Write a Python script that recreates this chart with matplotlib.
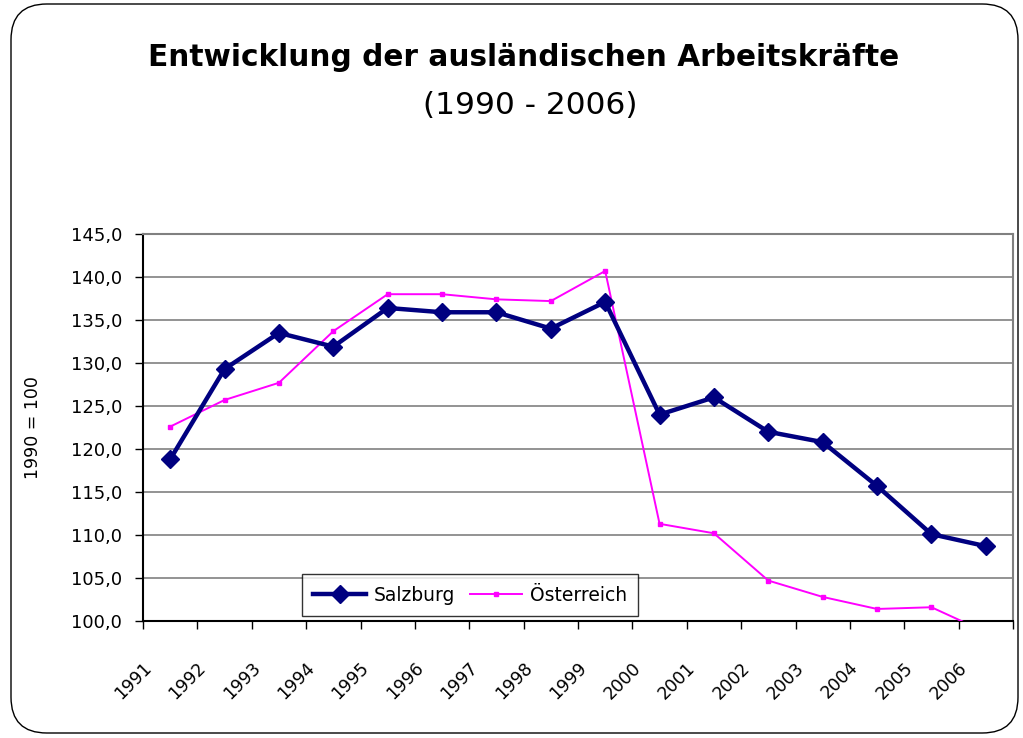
import matplotlib.pyplot as plt
from matplotlib.patches import FancyBboxPatch
from matplotlib.transforms import ScaledTranslation

years = ["1991", "1992", "1993", "1994", "1995", "1996", "1997", "1998",
         "1999", "2000", "2001", "2002", "2003", "2004", "2005", "2006"]
salzburg = [118.8, 129.3, 133.5, 131.9, 136.4, 135.9, 135.9, 134.0,
            137.1, 124.0, 126.0, 122.0, 120.8, 115.7, 110.1, 108.7]
oesterreich = [122.6, 125.7, 127.7, 133.7, 138.0, 138.0, 137.4, 137.2,
               140.7, 111.3, 110.2, 104.7, 102.8, 101.4, 101.6, 98.7]

plt.rcParams['font.family'] = ['DejaVu Sans']

fig = plt.figure(figsize=(10.23, 7.38), dpi=100)
ax = fig.add_axes([143 / 1023, 1 - 621 / 738, 870 / 1023, 387 / 738])

# rounded frame around the whole chart
frame = FancyBboxPatch((11 / 1023, 5 / 738), 1007 / 1023, 729 / 738,
                       boxstyle="round,pad=0,rounding_size=0.035",
                       transform=fig.transFigure, facecolor="none",
                       edgecolor="black", linewidth=1.0, mutation_aspect=1023 / 738)
fig.patches.append(frame)

fig.text(524 / 1023, 1 - 57 / 738, "Entwicklung der ausländischen Arbeitskräfte",
         ha="center", va="center", fontsize=21.3, fontweight="bold")
fig.text(530 / 1023, 1 - 106 / 738, "(1990 - 2006)", ha="center", va="center",
         fontsize=22.5)

x = list(range(len(years)))
ax.plot(x, oesterreich, color="#FF00FF", linewidth=1.4, marker="s",
        markersize=3, label="Österreich", zorder=3)
ax.plot(x, salzburg, color="#000080", linewidth=3.2, marker="D",
        markersize=9, label="Salzburg", zorder=4)

ax.set_xlim(-0.5, len(years) - 0.5)
ax.set_ylim(100, 145)
ax.set_yticks(range(100, 146, 5))
ax.set_yticklabels([f"{v},0" for v in range(100, 146, 5)], fontsize=13)
ax.yaxis.grid(True, color="#808080", linewidth=1.2)
ax.set_axisbelow(True)

ax.set_xticks(x)
ax.set_xticklabels(years, rotation=45, ha="center", va="top", fontsize=12.5)
ax.tick_params(axis="x", which="major", length=0, pad=27)
shift = ScaledTranslation(-37 / 100, 0, fig.dpi_scale_trans)
for lab in ax.get_xticklabels():
    lab.set_transform(lab.get_transform() + shift)
ax.set_xticks([i - 0.5 for i in range(len(years) + 1)], minor=True)
ax.tick_params(axis="x", which="minor", length=6, width=1, color="black")
ax.tick_params(axis="y", length=6, width=1, pad=9)

for s in ["top", "right"]:
    ax.spines[s].set_color("#808080")
    ax.spines[s].set_linewidth(1.5)
for s in ["left", "bottom"]:
    ax.spines[s].set_color("black")
    ax.spines[s].set_linewidth(1.5)

ax.set_ylabel("1990 = 100", fontsize=12.5, labelpad=21)

handles, labels = ax.get_legend_handles_labels()
leg = ax.legend(handles[::-1], labels[::-1], ncol=2, loc="lower left",
                bbox_to_anchor=(0.183, 0.013), fontsize=13.5, frameon=True,
                fancybox=False, edgecolor="black", handlelength=2.8,
                borderpad=0.6, columnspacing=0.8, handletextpad=0.4,
                borderaxespad=0)
leg.get_frame().set_linewidth(1.0)

fig.savefig("out.png", dpi=100)
